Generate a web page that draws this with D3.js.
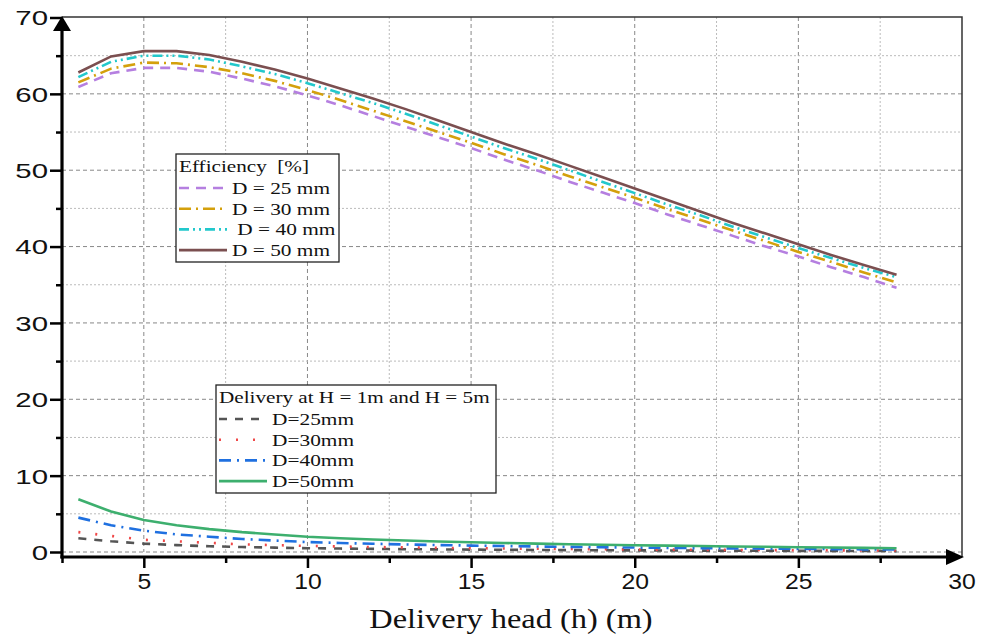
<!DOCTYPE html>
<html lang="en">
  <head>
    <meta charset="utf-8">
    <title>Efficiency and delivery vs delivery head</title>
    <script src="https://d3js.org/d3.v7.min.js"></script>
    <style>
      body { margin: 0; background: #fff; }
      .tick text { font-family: "Liberation Sans", Arial, sans-serif; font-size: 21px; fill: #111; }
      .legend text { font-family: "Liberation Serif", "Times New Roman", serif; font-size: 17.5px; fill: #111; white-space: pre; }
    </style>
  </head>
  <body>
    <svg id="chart" width="985" height="637"></svg>
    <script>
      // data
      var heads = [3,4,5,6,7,8,9,10,11,12,13,14,15,16,17,18,19,20,21,22,23,24,25,26,27,28];

      var eff25 = [60.9,62.7,63.4,63.4,62.9,62.0,61.0,59.8,58.5,57.1,55.7,54.3,52.9,51.4,50.0,48.5,47.1,45.7,44.2,42.8,41.4,40.0,38.7,37.3,36.0,34.6];
      var eff30 = [61.5,63.3,64.1,64.0,63.5,62.7,61.7,60.5,59.2,57.8,56.4,55.0,53.6,52.1,50.7,49.2,47.8,46.4,44.9,43.5,42.1,40.7,39.3,38.0,36.6,35.3];
      var eff40 = [62.2,64.2,65.0,65.0,64.5,63.6,62.6,61.4,60.1,58.8,57.4,55.9,54.4,52.9,51.5,50.0,48.5,47.0,45.5,44.1,42.6,41.2,39.8,38.5,37.2,36.0];
      var eff50 = [62.8,64.9,65.6,65.6,65.1,64.2,63.2,62.0,60.7,59.4,58.0,56.5,55.0,53.5,52.1,50.6,49.1,47.6,46.1,44.6,43.1,41.7,40.3,38.9,37.6,36.3];

      var del25 = [1.8,1.4,1.1,0.9,0.75,0.65,0.57,0.5,0.45,0.41,0.37,0.34,0.31,0.29,0.27,0.25,0.23,0.21,0.2,0.18,0.17,0.16,0.15,0.14,0.13,0.12];
      var del30 = [2.6,2.1,1.6,1.4,1.2,1.0,0.9,0.8,0.72,0.65,0.6,0.55,0.5,0.46,0.42,0.39,0.36,0.33,0.31,0.29,0.27,0.25,0.23,0.22,0.21,0.2];
      var del40 = [4.5,3.5,2.8,2.3,2.0,1.7,1.5,1.3,1.18,1.08,0.99,0.91,0.84,0.78,0.72,0.67,0.62,0.58,0.54,0.5,0.47,0.44,0.41,0.38,0.35,0.33];
      var del50 = [6.9,5.3,4.2,3.5,3.0,2.6,2.3,2.0,1.8,1.63,1.5,1.38,1.27,1.18,1.1,1.02,0.95,0.89,0.83,0.78,0.73,0.68,0.63,0.58,0.54,0.5];

      var effNames = ["D = 25 mm", "D = 30 mm", " D = 40 mm", "D = 50 mm"];
      var delNames = ["D=25mm", "D=30mm", "D=40mm", "D=50mm"];

      var xMajor = [5,10,15,20,25,30];
      var xMinor = [2.5,7.5,12.5,17.5,22.5,27.5];
      var yMajor = [0,10,20,30,40,50,60,70];
      var yMinor = [5,15,25,35,45,55,65];

      var svg = d3.select('#chart');

      var x = d3.scaleLinear().domain([2.5, 30]).range([62, 962]);
      var y = d3.scaleLinear().domain([0, 70]).range([552, 17.5]);
      var axisY = 557;

      // the original text is stretched sideways, so squeeze it back in with a scale
      function wideText(sel, tx, ty, sx) {
        return sel.attr('x', 0).attr('y', 0)
          .attr('transform', 'translate(' + tx + ',' + ty + ') scale(' + sx + ',1)');
      }

      // grid
      var grid = svg.append('g');
      grid.selectAll('.vmin').data(xMinor.slice(1)).enter().append('line')
        .attr('x1', d => x(d)).attr('x2', d => x(d)).attr('y1', 17).attr('y2', 552)
        .attr('stroke', '#bbb').attr('stroke-width', 1).attr('stroke-dasharray', '2,2');
      grid.selectAll('.vmaj').data(xMajor.slice(0, 5)).enter().append('line')
        .attr('x1', d => x(d)).attr('x2', d => x(d)).attr('y1', 17).attr('y2', 552)
        .attr('stroke', '#888').attr('stroke-width', 1).attr('stroke-dasharray', '4,3');
      grid.selectAll('.hmin').data(yMinor).enter().append('line')
        .attr('x1', 62).attr('x2', 962).attr('y1', d => y(d)).attr('y2', d => y(d))
        .attr('stroke', '#bbb').attr('stroke-width', 1).attr('stroke-dasharray', '2,2');
      grid.selectAll('.hmaj').data(yMajor.slice(0, 7)).enter().append('line')
        .attr('x1', 62).attr('x2', 962).attr('y1', d => y(d)).attr('y2', d => y(d))
        .attr('stroke', '#888').attr('stroke-width', 1).attr('stroke-dasharray', '4,3');

      // frame top / right
      svg.append('path').attr('d', 'M62,17H962V' + axisY)
        .attr('fill', 'none').attr('stroke', '#333').attr('stroke-width', 1.5);

      // series
      var effSeries = [
        { v: eff25, color: '#b57fe0', dash: '10,7' },
        { v: eff30, color: '#d4a00c', dash: '12,5,2,5' },
        { v: eff40, color: '#22c8cc', dash: '10,4,2,4,2,4' },
        { v: eff50, color: '#7b4f50', dash: null }
      ];
      var delSeries = [
        { v: del25, color: '#555555', dash: '8,8' },
        { v: del30, color: '#f04848', dash: '2,15' },
        { v: del40, color: '#1f70e0', dash: '12,6,2,6' },
        { v: del50, color: '#3daf6e', dash: null }
      ];

      var line = d3.line().x((d, i) => x(heads[i])).y(d => y(d));

      function drawSeries(list) {
        list.forEach(function (s) {
          svg.append('path').datum(s.v)
            .attr('d', line)
            .attr('fill', 'none')
            .attr('stroke', s.color)
            .attr('stroke-width', 2.6)
            .attr('stroke-dasharray', s.dash);
        });
      }
      drawSeries(delSeries);
      drawSeries(effSeries);

      // axes
      var gy = svg.append('g').attr('transform', 'translate(62,0)');
      gy.call(d3.axisLeft(y).tickValues(yMajor).tickSize(12).tickPadding(3).tickFormat(d3.format('d')));
      gy.append('g').call(d3.axisLeft(y).tickValues(yMinor).tickSize(6).tickFormat(''));
      gy.selectAll('.domain').remove();
      gy.selectAll('.tick line').attr('stroke', '#000').attr('stroke-width', 2.5);
      gy.selectAll('.tick text').each(function () {
        wideText(d3.select(this), -14, 0, 1.4).attr('dy', '0.35em');
      });

      var gx = svg.append('g').attr('transform', 'translate(0,' + axisY + ')');
      gx.call(d3.axisBottom(x).tickValues(xMajor.slice(0, 5)).tickSize(11).tickPadding(6));
      gx.append('g').call(d3.axisBottom(x).tickValues(xMinor).tickSize(6).tickFormat(''));
      gx.selectAll('.domain').remove();
      gx.selectAll('.tick line').attr('stroke', '#000').attr('stroke-width', 2.5);
      gx.selectAll('.tick text').style('font-size', '21.5px').each(function () {
        wideText(d3.select(this), 0, 17, 1.15).attr('dy', '0.71em');
      });
      // last label sits under the arrow
      wideText(gx.append('text'), x(30), 17, 1.15).attr('dy', '0.71em')
        .attr('text-anchor', 'middle')
        .style('font-family', '"Liberation Sans", Arial, sans-serif').style('font-size', '21.5px')
        .attr('fill', '#111').text('30');

      // axis lines with arrows
      svg.append('line').attr('x1', 62).attr('x2', 62).attr('y1', axisY + 1.5).attr('y2', 28)
        .attr('stroke', '#000').attr('stroke-width', 3.2);
      svg.append('path').attr('d', 'M62,16L71,31L53,31Z').attr('fill', '#000');
      svg.append('line').attr('x1', 60.5).attr('x2', 952).attr('y1', axisY).attr('y2', axisY)
        .attr('stroke', '#000').attr('stroke-width', 3.2);
      svg.append('path').attr('d', 'M964,' + axisY + 'L946,' + (axisY - 8) + 'L946,' + (axisY + 8) + 'Z').attr('fill', '#000');

      // axis title
      wideText(svg.append('text'), 511, 628, 1.2).attr('text-anchor', 'middle')
        .style('font-family', '"Liberation Serif", "Times New Roman", serif').style('font-size', '27px')
        .attr('fill', '#111').text('Delivery head (h) (m)');

      // legends
      function legend(left, top, w, h, title, names, series) {
        var g = svg.append('g').attr('class', 'legend');
        g.append('rect').attr('x', left).attr('y', top).attr('width', w).attr('height', h)
          .attr('fill', '#fff').attr('stroke', '#222').attr('stroke-width', 1.3);
        wideText(g.append('text'), left + 3, top + 18, 1.21).text(title);
        names.forEach(function (n, i) {
          var cy = top + 34 + i * 20.7;
          g.append('line').attr('x1', left + 3).attr('x2', left + 51).attr('y1', cy).attr('y2', cy)
            .attr('stroke', series[i].color).attr('stroke-width', 2.6)
            .attr('stroke-dasharray', series[i].dash);
          wideText(g.append('text'), left + 56, cy + 6, 1.22).text(n);
        });
      }
      legend(176, 154, 163, 108, 'Efficiency  [%]', effNames, effSeries);
      legend(216, 385, 280, 108, 'Delivery at H = 1m and H = 5m', delNames, delSeries);
    </script>
  </body>
</html>
